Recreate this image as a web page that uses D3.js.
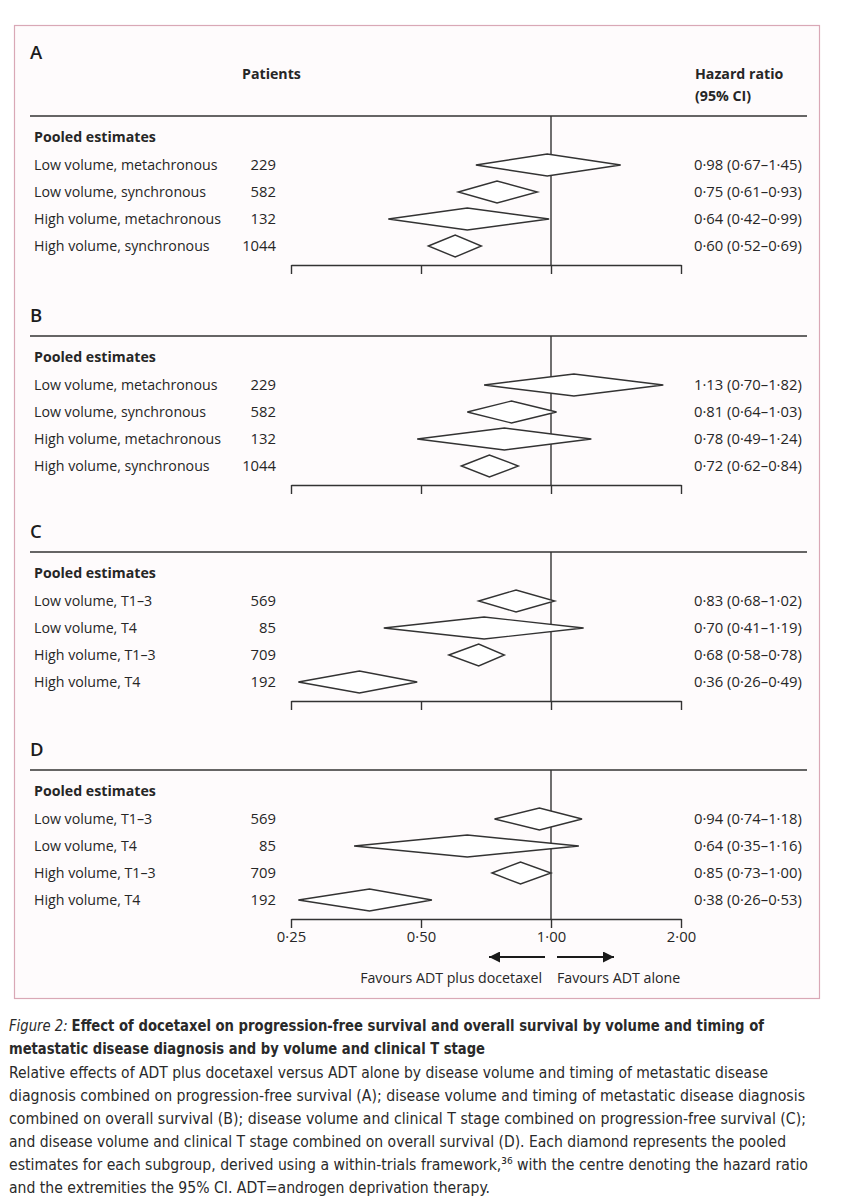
<!DOCTYPE html>
<html>
<head>
<meta charset="utf-8">
<script src="https://cdn.jsdelivr.net/npm/d3@7"></script>
<style>
  html, body { margin: 0; padding: 0; background: #ffffff; }
  svg { display: block; }
</style>
</head>
<body>
<div id="chart"></div>
<script>
// ---------------- DATA ----------------
const panelLetters = ["A", "B", "C", "D"];
const labelsVolumeTiming = ["Low volume, metachronous", "Low volume, synchronous", "High volume, metachronous", "High volume, synchronous"];
const patientsVolumeTiming = [229, 582, 132, 1044];
const labelsVolumeStage = ["Low volume, T1–3", "Low volume, T4", "High volume, T1–3", "High volume, T4"];
const patientsVolumeStage = [569, 85, 709, 192];

const hrA = [0.98, 0.75, 0.64, 0.60];
const lowA = [0.67, 0.61, 0.42, 0.52];
const highA = [1.45, 0.93, 0.99, 0.69];

const hrB = [1.13, 0.81, 0.78, 0.72];
const lowB = [0.70, 0.64, 0.49, 0.62];
const highB = [1.82, 1.03, 1.24, 0.84];

const hrC = [0.83, 0.70, 0.68, 0.36];
const lowC = [0.68, 0.41, 0.58, 0.26];
const highC = [1.02, 1.19, 0.78, 0.49];

const hrD = [0.94, 0.64, 0.85, 0.38];
const lowD = [0.74, 0.35, 0.73, 0.26];
const highD = [1.18, 1.16, 1.00, 0.53];

const tickValues = [0.25, 0.5, 1, 2];
const tickLabels = ["0·25", "0·50", "1·00", "2·00"];

const groupTitle = "Pooled estimates";
const headerPatients = "Patients";
const headerHR = ["Hazard ratio", "(95% CI)"];
const favoursLeft = "Favours ADT plus docetaxel";
const favoursRight = "Favours ADT alone";

// ---------------- BUILD ----------------
const panels = [
  { letter: panelLetters[0], labels: labelsVolumeTiming, n: patientsVolumeTiming, hr: hrA, lo: lowA, hi: highA },
  { letter: panelLetters[1], labels: labelsVolumeTiming, n: patientsVolumeTiming, hr: hrB, lo: lowB, hi: highB },
  { letter: panelLetters[2], labels: labelsVolumeStage, n: patientsVolumeStage, hr: hrC, lo: lowC, hi: highC },
  { letter: panelLetters[3], labels: labelsVolumeStage, n: patientsVolumeStage, hr: hrD, lo: lowD, hi: highD }
];
const ruleY = [116, 336, 552, 770];

const W = 853, H = 1200;
const FONT = "'Open Sans', 'Noto Sans', sans-serif";
const INK = "#262626";
const LINE = "#333333";
const FS_LABEL = 14.2;
const FS_NUM = 14.8;

const svg = d3.select("#chart").append("svg")
  .attr("width", W).attr("height", H)
  .attr("viewBox", `0 0 ${W} ${H}`);

svg.append("rect").attr("x", 0).attr("y", 0).attr("width", W).attr("height", H).attr("fill", "#ffffff");

// frame
svg.append("rect")
  .attr("x", 14.5).attr("y", 25.5).attr("width", 805).attr("height", 973)
  .attr("fill", "#fefbfc").attr("stroke", "#d9a8b6").attr("stroke-width", 1.2);

const x = d3.scaleLog().base(2).domain([0.25, 2]).range([291, 681]);
const fmt = v => d3.format(".2f")(v).replace(".", "·");

const rowStep = 27;
const diamondHalf = 11;

// Column headers (panel A only)
svg.append("text").attr("x", 242).attr("y", 74).attr("dy", "0.35em")
  .attr("font-family", FONT).attr("font-size", FS_LABEL).attr("font-weight", 700)
  .attr("fill", INK).text(headerPatients);
headerHR.forEach((t, i) => {
  svg.append("text").attr("x", 695).attr("y", 74 + i * 22).attr("dy", "0.35em")
    .attr("font-family", FONT).attr("font-size", FS_LABEL).attr("font-weight", 700)
    .attr("fill", INK).text(t);
});

panels.forEach((p, pi) => {
  const r = ruleY[pi];
  const g = svg.append("g");
  const letterY = pi === 0 ? 52 : r - 21;

  g.append("text").attr("x", 30).attr("y", letterY).attr("dy", "0.36em")
    .attr("font-family", FONT).attr("font-size", 18.5).attr("font-weight", 600)
    .attr("fill", "#1c1c1c").text(p.letter);

  g.append("line").attr("x1", 30).attr("x2", 807).attr("y1", r).attr("y2", r)
    .attr("stroke", LINE).attr("stroke-width", 1.6);

  g.append("text").attr("x", 34).attr("y", r + 21).attr("dy", "0.35em")
    .attr("font-family", FONT).attr("font-size", FS_LABEL).attr("font-weight", 700)
    .attr("fill", INK).text(groupTitle);

  const axisY = r + 149;
  const rowY = i => r + 49 + i * rowStep;

  g.append("line").attr("x1", x(1)).attr("x2", x(1)).attr("y1", r).attr("y2", axisY)
    .attr("stroke", LINE).attr("stroke-width", 1.4);

  const axis = d3.axisBottom(x).tickValues(tickValues).tickSizeOuter(0).tickSizeInner(9)
    .tickFormat((d, i) => pi === 3 ? tickLabels[i] : "");
  const ag = g.append("g").attr("transform", `translate(0,${axisY})`).call(axis);
  ag.select(".domain").attr("stroke", LINE).attr("stroke-width", 1.6);
  ag.selectAll(".tick line").attr("stroke", LINE).attr("stroke-width", 1.4);
  ag.selectAll(".tick text").attr("font-family", FONT).attr("font-size", FS_NUM)
    .attr("fill", INK).attr("y", 12);

  p.labels.forEach((lab, i) => {
    const y = rowY(i);
    g.append("text").attr("x", 34).attr("y", y).attr("dy", "0.35em")
      .attr("font-family", FONT).attr("font-size", FS_LABEL).attr("fill", INK).text(lab);
    g.append("text").attr("x", 276).attr("y", y).attr("dy", "0.35em").attr("text-anchor", "end")
      .attr("font-family", FONT).attr("font-size", FS_NUM).attr("fill", INK).text(p.n[i]);
    g.append("text").attr("x", 694).attr("y", y).attr("dy", "0.35em")
      .attr("font-family", FONT).attr("font-size", FS_NUM).attr("fill", INK)
      .text(`${fmt(p.hr[i])} (${fmt(p.lo[i])}–${fmt(p.hi[i])})`);

    const pts = [[x(p.lo[i]), y], [x(p.hr[i]), y - diamondHalf], [x(p.hi[i]), y], [x(p.hr[i]), y + diamondHalf]];
    g.append("path").attr("d", d3.line()(pts) + "Z")
      .attr("fill", "#ffffff").attr("stroke", LINE).attr("stroke-width", 1.4)
      .attr("stroke-linejoin", "miter");
  });
});

// arrows
const defs = svg.append("defs");
defs.append("marker").attr("id", "ah").attr("viewBox", "0 0 10 10")
  .attr("refX", 10).attr("refY", 5).attr("markerWidth", 12).attr("markerHeight", 11)
  .attr("markerUnits", "userSpaceOnUse").attr("orient", "auto")
  .append("path").attr("d", "M0,0L10,5L0,10Z").attr("fill", "#1a1a1a");

const arrowY = 957;
svg.append("line").attr("x1", x(1) - 6).attr("x2", x(1) - 62).attr("y1", arrowY).attr("y2", arrowY)
  .attr("stroke", "#1a1a1a").attr("stroke-width", 1.8).attr("marker-end", "url(#ah)");
svg.append("line").attr("x1", x(1) + 6).attr("x2", x(1) + 63).attr("y1", arrowY).attr("y2", arrowY)
  .attr("stroke", "#1a1a1a").attr("stroke-width", 1.8).attr("marker-end", "url(#ah)");

svg.append("text").attr("x", x(1) - 9).attr("y", 978).attr("dy", "0.35em").attr("text-anchor", "end")
  .attr("font-family", FONT).attr("font-size", FS_LABEL).attr("fill", INK).text(favoursLeft);
svg.append("text").attr("x", x(1) + 6).attr("y", 978).attr("dy", "0.35em")
  .attr("font-family", FONT).attr("font-size", FS_LABEL).attr("fill", INK).text(favoursRight);

// ---------------- CAPTION ----------------
const CAP = "'Liberation Sans Narrow', 'DejaVu Sans Condensed', 'Roboto', sans-serif";
const capInk = "#2a2a2a";
const CFS = 16.5;

// Lay out a line made of several separate text pieces, fitted to a total width.
function captionLine(y, pieces, totalWidth) {
  const nodes = pieces.map(pc => {
    const t = svg.append("text").attr("y", y).attr("dy", "0.35em")
      .attr("font-family", CAP).attr("font-size", CFS).attr("fill", capInk)
      .attr("font-weight", pc.bold ? 700 : 400)
      .attr("font-style", pc.italic ? "italic" : "normal")
      .text(pc.text);
    return { t, w: t.node().getComputedTextLength(), gap: pc.gap || 0 };
  });
  const natural = d3.sum(nodes, n => n.w);
  const gaps = d3.sum(nodes, n => n.gap);
  const k = (totalWidth - gaps) / natural;
  let cx = 9;
  nodes.forEach(n => {
    cx += n.gap;
    const w = n.w * k;
    n.t.attr("x", cx).attr("textLength", w).attr("lengthAdjust", "spacingAndGlyphs");
    cx += w;
  });
}

captionLine(1025, [
  { text: "Figure 2:", italic: true },
  { text: "Effect of docetaxel on progression-free survival and overall survival by volume and timing of", bold: true, gap: 4 }
], 755);
captionLine(1048, [
  { text: "metastatic disease diagnosis and by volume and clinical T stage", bold: true }
], 476);

const bodyLines = [
  ["Relative effects of ADT plus docetaxel versus ADT alone by disease volume and timing of metastatic disease", 759],
  ["diagnosis combined on progression-free survival (A); disease volume and timing of metastatic disease diagnosis", 796],
  ["combined on overall survival (B); disease volume and clinical T stage combined on progression-free survival (C);", 797],
  ["and disease volume and clinical T stage combined on overall survival (D). Each diamond represents the pooled", 777],
  ["estimates for each subgroup, derived using a within-trials framework,\u00B3\u2076 with the centre denoting the hazard ratio", 799],
  ["and the extremities the 95% CI. ADT=androgen deprivation therapy.", 481]
];
bodyLines.forEach((ln, i) => {
  captionLine(1072 + i * 23, [{ text: ln[0] }], ln[1]);
});
</script>
</body>
</html>
